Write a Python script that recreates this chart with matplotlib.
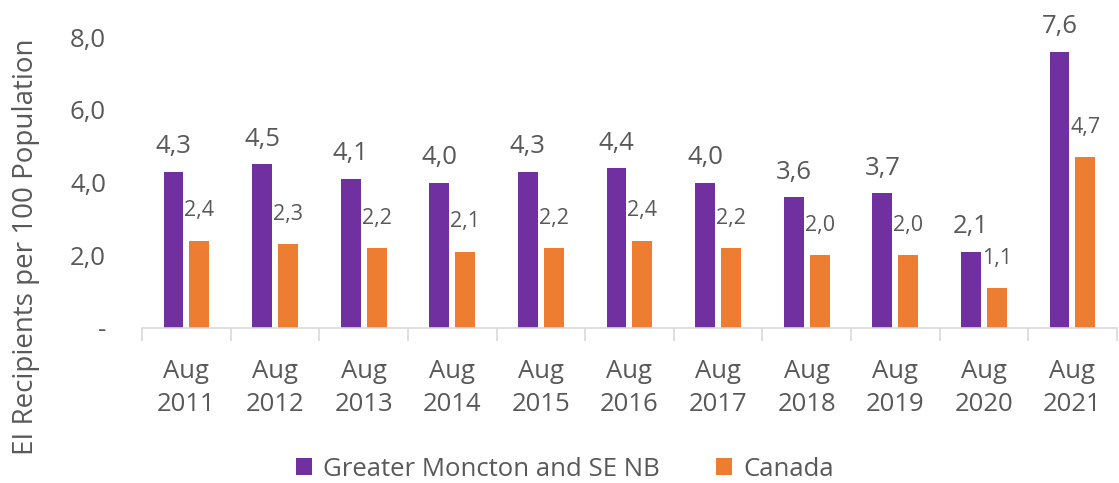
import numpy as np
import matplotlib.pyplot as plt
from matplotlib.ticker import FuncFormatter

# data
periods = ['Aug\n2011', 'Aug\n2012', 'Aug\n2013', 'Aug\n2014', 'Aug\n2015', 'Aug\n2016',
           'Aug\n2017', 'Aug\n2018', 'Aug\n2019', 'Aug\n2020', 'Aug\n2021']
moncton = [4.3, 4.5, 4.1, 4.0, 4.3, 4.4, 4.0, 3.6, 3.7, 2.1, 7.6]
canada = [2.4, 2.3, 2.2, 2.1, 2.2, 2.4, 2.2, 2.0, 2.0, 1.1, 4.7]

purple = '#7030A0'
orange = '#ED7D31'
grey_txt = '#595959'

plt.rcParams['font.family'] = ['Open Sans', 'DejaVu Sans']

fig = plt.figure(figsize=(11.19, 4.83), dpi=100)
ax = fig.add_axes([0.127, 0.321, 0.871, 0.602])

x = np.arange(len(periods))
w = 0.225
off = 0.146
b1 = ax.bar(x - off, moncton, w, color=purple, label='Greater Moncton and SE NB')
b2 = ax.bar(x + off, canada, w, color=orange, label='Canada')

fmt = lambda v: f'{v:.1f}'.replace('.', ',')
for rect, v in zip(b1, moncton):
    ax.annotate(fmt(v), (rect.get_x() + rect.get_width() / 2, v), xytext=(0, 9),
                textcoords='offset points', ha='center', va='bottom',
                fontsize=18.5, color=grey_txt)
for rect, v in zip(b2, canada):
    ax.annotate(fmt(v), (rect.get_x() + rect.get_width() / 2, v), xytext=(0, 14),
                textcoords='offset points', ha='center', va='bottom',
                fontsize=15.5, color=grey_txt)

ax.set_xlim(-0.5, len(periods) - 0.5)
ax.set_ylim(0, 8)
ax.set_yticks([0, 2, 4, 6, 8])
ax.yaxis.set_major_formatter(FuncFormatter(lambda v, p: '-' if v == 0 else fmt(v)))
ax.tick_params(axis='y', length=0, labelsize=18.5, labelcolor=grey_txt, pad=26)

ax.set_xticks(x)
ax.set_xticklabels(periods, linespacing=1.45)
ax.set_xticks(np.arange(-0.5, len(periods)), minor=True)
ax.tick_params(axis='x', which='major', length=0, labelsize=18.5, labelcolor=grey_txt, pad=22)
ax.tick_params(axis='x', which='minor', length=9, width=1.2, color='#D9D9D9')

for s in ['top', 'right', 'left']:
    ax.spines[s].set_visible(False)
ax.spines['bottom'].set_color('#D9D9D9')
ax.spines['bottom'].set_linewidth(1.2)

ax.set_ylabel('EI Recipients per 100 Population', fontsize=20, color=grey_txt)
ax.yaxis.set_label_coords(-0.105, 0.28)

fig.legend(handles=[b1, b2], loc='lower center', bbox_to_anchor=(0.505, -0.045), ncol=2,
           frameon=False, fontsize=18.5, labelcolor=grey_txt, handlelength=0.6,
           handleheight=0.6, columnspacing=2.2, handletextpad=0.45)

fig.savefig('out.png', dpi=100)
